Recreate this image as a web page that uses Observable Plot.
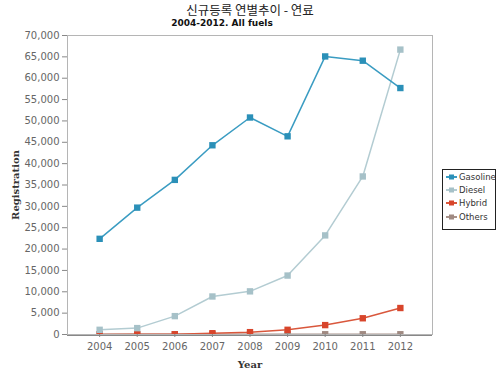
<!DOCTYPE html>
<html>
<head>
<meta charset="utf-8">
<script src="https://cdn.jsdelivr.net/npm/d3@7"></script>
<script src="https://cdn.jsdelivr.net/npm/@observablehq/plot@0.6"></script>
<style>
  html, body { margin: 0; padding: 0; background: #fff; }
  #wrap { position: relative; width: 500px; height: 375px; overflow: hidden; }
  #title { position: absolute; left: 0; width: 500px; top: 0px; text-align: center;
           font-family: "Noto Sans CJK KR", sans-serif; font-size: 12.5px; line-height: normal; color: #222; }
  #subtitle { position: absolute; left: 0; width: 444px; top: 18px; text-align: center;
           font-family: "DejaVu Sans", sans-serif; font-weight: bold; font-size: 9px; line-height: normal; color: #111; }
  #ylabel { position: absolute; left: 15px; top: 185px; transform: translate(-50%, -50%) rotate(-90deg);
           font-family: "DejaVu Serif", serif; font-weight: bold; font-size: 10px; color: #333; white-space: nowrap; }
  #xlabel { position: absolute; left: 0; width: 500px; top: 359px; text-align: center;
           font-family: "DejaVu Serif", serif; font-weight: bold; font-size: 10px; color: #333; }
  #legend { position: absolute; left: 442px; top: 169px; width: 52px; height: 59px; border: 1px solid #222; background: #fff;
           font-family: "DejaVu Sans", sans-serif; font-size: 8.5px; color: #333; }
  .item { position: absolute; left: 3px; height: 13px; display: flex; align-items: center; white-space: nowrap; }
  .item svg { display: block; margin-right: 2px; }
  #chart svg { position: absolute; left: 0; top: 0; }
</style>
</head>
<body>
<div id="wrap">
  <div id="chart"></div>
  <div id="title">신규등록 연별추이 - 연료</div>
  <div id="subtitle">2004-2012. All fuels</div>
  <div id="ylabel">Registration</div>
  <div id="xlabel">Year</div>
  <div id="legend"></div>
</div>
<script>
const years = ["2004","2005","2006","2007","2008","2009","2010","2011","2012"];
const gasoline = [22400, 29700, 36200, 44300, 50800, 46400, 65100, 64100, 57700];
const diesel   = [1100, 1500, 4300, 8900, 10100, 13800, 23200, 37000, 66700];
const hybrid   = [20, 30, 60, 300, 550, 1100, 2200, 3800, 6200];
const others   = [60, 60, 60, 60, 60, 60, 60, 60, 60];
const seriesNames = ["Gasoline", "Diesel", "Hybrid", "Others"];
const lineColors  = ["#3a9cc2", "#b3ccd2", "#d9573c", "#a8928a"];
const dotColors   = ["#2b90b8", "#a6c1c8", "#d8452b", "#a08a82"];
const yTicks = d3.range(0, 70001, 5000);

const seriesValues = [gasoline, diesel, hybrid, others];
const rows = [];
seriesNames.forEach((name, si) => {
  years.forEach((yr, i) => rows.push({series: name, year: yr, value: seriesValues[si][i]}));
});

const order = ["Others", "Hybrid", "Diesel", "Gasoline"];
const marks = [
  Plot.frame({stroke: "#b5b5b5"}),
  Plot.ruleY([0], {stroke: "#888", dy: 1}),
  Plot.axisY({ticks: yTicks, tickSize: 5, tickPadding: 3, tickFormat: d3.format(","), label: null,
               fontSize: 10, fontFamily: "DejaVu Sans", stroke: "#888", fill: "#666"}),
  Plot.axisX({tickSize: 3, tickPadding: 5, label: null, fontSize: 10, fontFamily: "DejaVu Sans", stroke: "#888", fill: "#666"})
];
order.forEach(name => {
  const si = seriesNames.indexOf(name);
  const data = rows.filter(d => d.series === name);
  marks.push(Plot.line(data, {x: "year", y: "value", stroke: lineColors[si], strokeWidth: 1.5, clip: true}));
  marks.push(Plot.dot(data, {x: "year", y: "value", symbol: "square", r: 3.6, fill: dotColors[si], stroke: "none", clip: true}));
});

const chart = Plot.plot({
  width: 500,
  height: 375,
  marginTop: 35,
  marginBottom: 41,
  marginLeft: 67,
  marginRight: 68,
  style: {background: "transparent", fontFamily: "DejaVu Sans"},
  x: {type: "point", domain: years, padding: 0.855, round: false, axis: null},
  y: {domain: [0, 70000], axis: null},
  marks
});
document.getElementById("chart").appendChild(chart);

const legend = document.getElementById("legend");
seriesNames.forEach((name, si) => {
  const item = document.createElement("div");
  item.className = "item";
  item.style.top = (0 + si * 13.4) + "px";
  item.innerHTML = `<svg width="11" height="8"><line x1="0" x2="11" y1="4" y2="4" stroke="${lineColors[si]}" stroke-width="2"/>` +
    `<rect x="3" y="1.5" width="5" height="5" fill="${dotColors[si]}"/></svg><span>${name}</span>`;
  legend.appendChild(item);
});
</script>
</body>
</html>
